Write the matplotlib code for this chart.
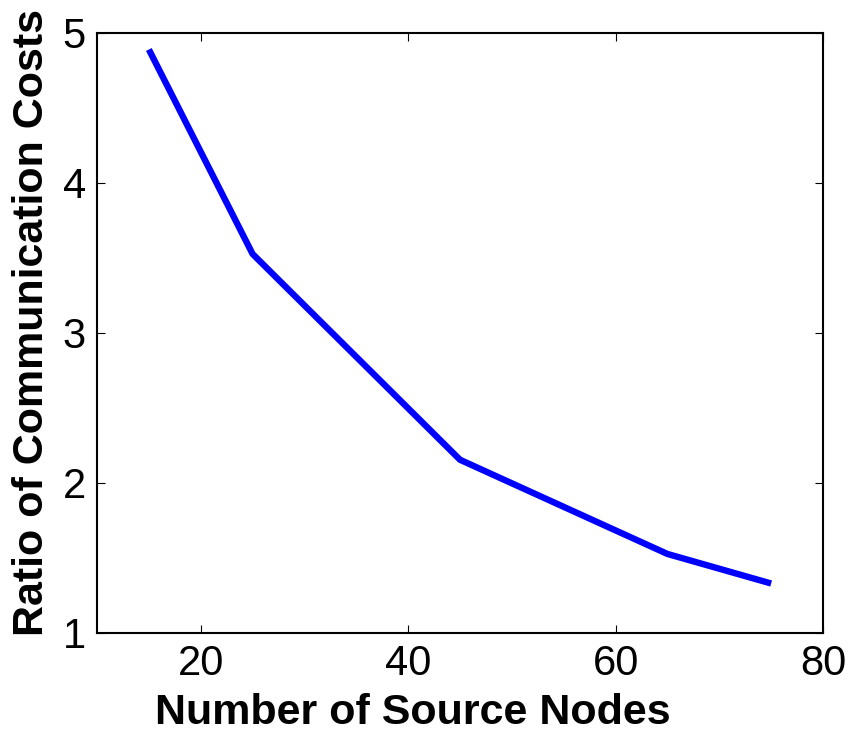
import matplotlib
matplotlib.use('Agg')
from matplotlib import pyplot as plt

# data
source_nodes = [15, 25, 45, 65, 75]
cost_ratio = [4.89, 3.527, 2.155, 1.527, 1.33]

x_ticks = [20, 40, 60, 80]
y_ticks = [1, 2, 3, 4, 5]

plt.rcParams['font.family'] = ['Liberation Sans', 'DejaVu Sans']

fig = plt.figure(figsize=(8.51, 7.34), dpi=100)
ax = fig.add_axes([97 / 851, 1 - 633 / 734, (823 - 97) / 851, (633 - 33) / 734])

ax.plot(source_nodes, cost_ratio, color='#0000ff', linewidth=4.6, solid_capstyle='butt')

ax.set_xlim(10, 80)
ax.set_ylim(1, 5)
ax.set_xticks(x_ticks)
ax.set_yticks(y_ticks)
ax.tick_params(direction='in', length=6, width=0.8, labelsize=30,
               top=True, right=True, pad=8)
for s in ax.spines.values():
    s.set_linewidth(1.5)

ax.set_xlabel('Number of Source Nodes', fontsize=31, fontweight='bold', va='baseline')
ax.xaxis.set_label_coords(0.435, -0.152)
ax.set_ylabel('Ratio of Communication Costs', fontsize=31, fontweight='bold',
              va='baseline', rotation_mode='anchor')
ax.yaxis.set_label_coords(-0.074, 0.517)

fig.savefig('out.png', dpi=100)
